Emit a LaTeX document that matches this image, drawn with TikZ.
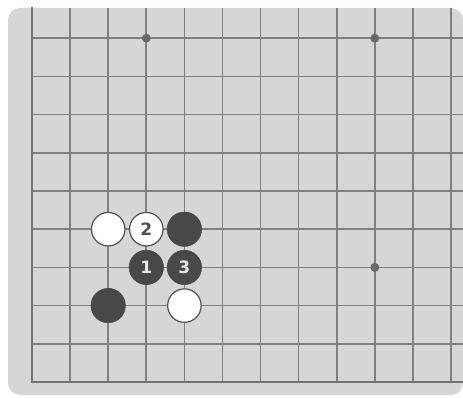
\documentclass[tikz,border=0pt]{standalone}
\usepackage{fontspec}
\setmainfont{DejaVu Sans}
\definecolor{boardgray}{RGB}{214,214,214}
\definecolor{gridgray}{RGB}{128,128,128}
\definecolor{stoneblack}{RGB}{72,72,72}
\definecolor{outline}{RGB}{80,80,80}
\definecolor{numwhite}{RGB}{232,232,232}
\definecolor{numdark}{RGB}{80,80,80}
\definecolor{hoshigray}{RGB}{105,105,105}
\begin{document}
\begin{tikzpicture}[x=1pt,y=-1pt,
  gridline/.style={draw=gridgray, line width=1.7pt},
  edgeline/.style={draw=gridgray!90!black, line width=2.8pt, line cap=rect},
  stonefont/.style={font=\fontsize{17}{17}\selectfont\bfseries},
  blackstone/.style={circle, fill=stoneblack, draw=stoneblack, line width=0.5pt, minimum size=34.5pt, inner sep=0pt, text=numwhite, stonefont},
  whitestone/.style={circle, fill=white, draw=outline, line width=1.2pt, minimum size=33.5pt, inner sep=0pt, text=numdark, stonefont},
  hoshi/.style={circle, fill=hoshigray, inner sep=0pt, minimum size=9pt}]
\useasboundingbox (0,0) rectangle (463,398);
\fill[boardgray, rounded corners=12pt] (8,8) rectangle (463,395);
% grid lines
\foreach \i in {1,...,11} {
  \pgfmathsetmacro{\xx}{32+38.09*\i}
  \draw[gridline] (\xx,8) -- (\xx,382);
}
\foreach \j in {1,...,9} {
  \pgfmathsetmacro{\yy}{382-38.2*\j}
  \draw[gridline] (32,\yy) -- (463,\yy);
}
\draw[edgeline] (32,8) -- (32,382) -- (463,382);
% star points
\node[hoshi] (h1) at (146.3,38.2) {};
\node[hoshi] (h2) at (374.8,38.2) {};
\node[hoshi] (h3) at (374.8,267.4) {};
% stones
\node[whitestone] (w1) at (108.2,229.2) {};
\node[whitestone] (w2) at (146.3,229.2) {2};
\node[blackstone] (b1) at (184.4,229.2) {};
\node[blackstone] (b2) at (146.3,267.4) {1};
\node[blackstone] (b3) at (184.4,267.4) {3};
\node[blackstone] (b4) at (108.2,305.6) {};
\node[whitestone] (w3) at (184.4,305.6) {};
\end{tikzpicture}
\end{document}
